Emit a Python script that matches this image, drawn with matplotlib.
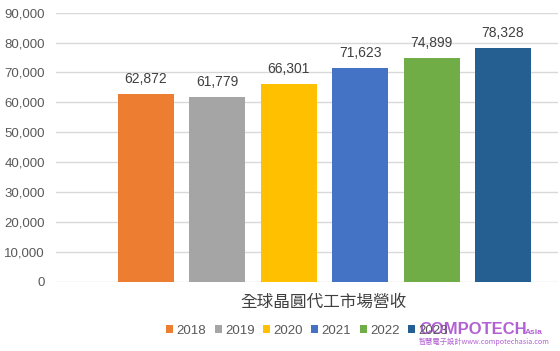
import matplotlib
matplotlib.use("Agg")
import matplotlib.pyplot as plt
from matplotlib.patches import Patch
from matplotlib.ticker import FuncFormatter

years = ["2018", "2019", "2020", "2021", "2022", "2023"]
revenue = [62872, 61779, 66301, 71623, 74899, 78328]
colors = ["#ED7D31", "#A5A5A5", "#FFC000", "#4472C4", "#70AD47", "#255E91"]
yticks = [0, 10000, 20000, 30000, 40000, 50000, 60000, 70000, 80000, 90000]
title = "全球晶圓代工市場營收"

W, H = 560, 351
fig = plt.figure(figsize=(W / 100, H / 100), dpi=100)
fig.patch.set_facecolor("white")

ax = fig.add_axes([56 / W, (H - 281.7) / H, (558 - 56) / W, (281.7 - 12.7) / H])
x = list(range(len(years)))
bars = ax.bar(x, revenue, width=0.784, color=colors, zorder=3)
ax.set_ylim(0, 90000)
ax.set_xlim(-1.26, 5.77)
ax.set_yticks(yticks)
ax.yaxis.set_major_formatter(FuncFormatter(lambda v, p: f"{int(v):,}"))
ax.set_xticks([])
for s in ax.spines.values():
    s.set_visible(False)
ax.grid(axis="y", color="#D9D9D9", linewidth=1.0, zorder=0)
ax.tick_params(axis="y", length=0, pad=8, labelsize=9.5, labelcolor="#595959")
for lab in ax.get_yticklabels():
    lab.set_family("Liberation Sans")

for b, v in zip(bars, revenue):
    ax.annotate(f"{v:,}", (b.get_x() + b.get_width() / 2, v), xytext=(0, 5.5),
                textcoords="offset points", ha="center", va="bottom",
                fontsize=10, color="#404040", family="Liberation Sans")

fig.text(324 / W, 1 - 302 / H, title, ha="center", va="center", fontsize=12,
         color="#404040", family=["Noto Sans CJK TC", "DejaVu Sans"])

handles = [Patch(facecolor=c, edgecolor="none") for c in colors]
leg = fig.legend(handles, years, loc="center", bbox_to_anchor=(307 / W, 1 - 331 / H),
                 ncol=6, frameon=False, handlelength=0.55, handleheight=0.55,
                 handletextpad=0.25, columnspacing=0.62, borderpad=0.2,
                 prop={"family": "Liberation Sans", "size": 9.5})
for t in leg.get_texts():
    t.set_color("#595959")

# watermark
wm = "#A445CC"
fig.text(419 / W, 1 - 334 / H, "COMPOTECH", ha="left", va="baseline", fontsize=12,
         fontweight="bold", color=wm, alpha=0.85, family="Liberation Sans")
fig.text(525 / W, 1 - 334 / H, "Asia", ha="left", va="baseline", fontsize=6,
         fontweight="bold", color=wm, alpha=0.85, family="Liberation Sans")
fig.text(419 / W, 1 - 344 / H, "智慧電子設計www.compotechasia.com", ha="left",
         va="baseline", fontsize=5.2, color=wm, alpha=0.85,
         family=["Noto Sans CJK TC", "DejaVu Sans"])

fig.savefig("out.png", dpi=100, facecolor="white")
